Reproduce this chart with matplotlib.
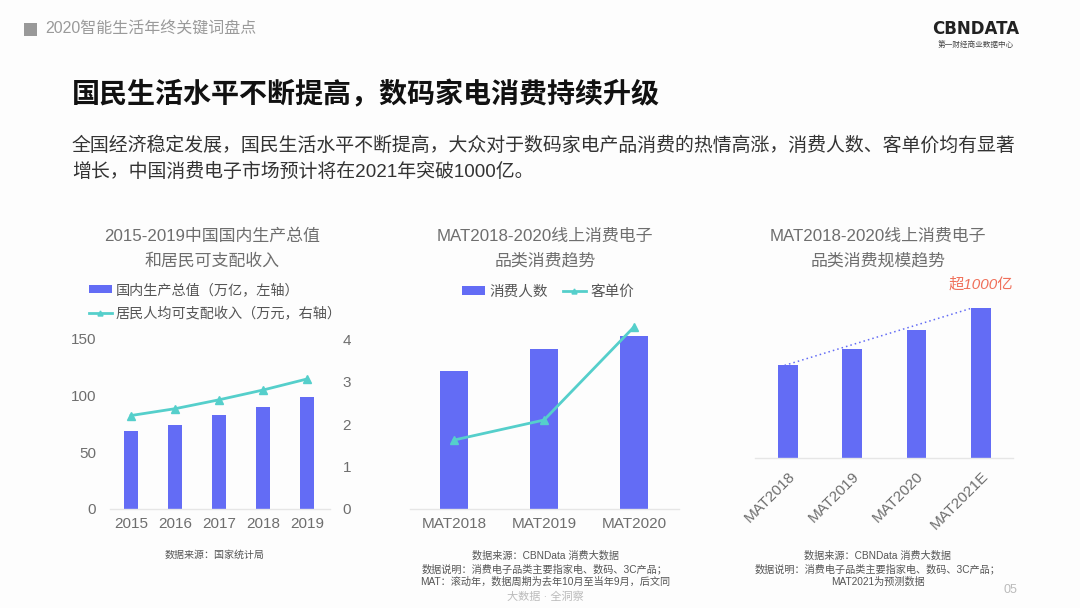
import matplotlib
matplotlib.use("Agg")
import matplotlib.pyplot as plt
from matplotlib.patches import Rectangle

plt.rcParams['font.family'] = ['Liberation Sans', 'Noto Sans CJK SC', 'DejaVu Sans']

# ---------------- data ----------------
years = ['2015', '2016', '2017', '2018', '2019']
gdp = [68.9, 74.4, 82.7, 90.0, 99.1]            # 万亿
income = [2.20, 2.36, 2.57, 2.80, 3.06]         # 万元

mat3 = ['MAT2018', 'MAT2019', 'MAT2020']
consumers_idx = [100, 116, 126]                 # 消费人数 (relative)
price_idx = [100, 129, 264]                     # 客单价 (relative)

mat4 = ['MAT2018', 'MAT2019', 'MAT2020', 'MAT2021E']
scale = [650, 767, 898, 1050]                   # 亿

BAR = '#636cf5'
LINE = '#55cfcb'
GRAY = '#6e6e6e'
W, H = 1080, 608

fig = plt.figure(figsize=(W / 100, H / 100), dpi=100, facecolor='#fdfdfd')

def fx(px):
    return px / W

def fy(py):
    return 1 - py / H

def style_axis(ax):
    for s in ['top', 'right', 'left']:
        ax.spines[s].set_visible(False)
    ax.spines['bottom'].set_color('#e6e6e6')
    ax.spines['bottom'].set_linewidth(1.0)
    ax.set_facecolor('none')
    ax.tick_params(axis='both', length=0, colors=GRAY, labelsize=11)

# ---------------- header ----------------
fig.patches.append(Rectangle((fx(24), fy(36)), fx(13), 13 / H, transform=fig.transFigure,
                             facecolor='#999999', edgecolor='none'))
fig.text(fx(45), fy(29), '2020智能生活年终关键词盘点', fontsize=11.5, color='#9a9a9a', va='center')
fig.text(fx(976), fy(29), 'CBNDATA', fontsize=12, fontweight='bold', color='#222222',
         ha='center', va='center', family='DejaVu Sans')
fig.text(fx(976), fy(45), '第一财经商业数据中心', fontsize=5.5, color='#444444', ha='center', va='center')

fig.text(fx(72), fy(95), '国民生活水平不断提高，数码家电消费持续升级', fontsize=20.2,
         fontweight='bold', color='#111111', va='center')
fig.text(fx(72), fy(146), '全国经济稳定发展，国民生活水平不断提高，大众对于数码家电产品消费的热情高涨，消费人数、客单价均有显著',
         fontsize=13.6, color='#333333', va='center')
fig.text(fx(72), fy(172), '增长，中国消费电子市场预计将在2021年突破1000亿。',
         fontsize=13.6, color='#333333', va='center')

# ---------------- chart 1 ----------------
ax1 = fig.add_axes([fx(110), fy(509), fx(220), 170 / H])
style_axis(ax1)
x1 = range(len(years))
b1 = ax1.bar(x1, gdp, width=0.32, color=BAR, label='国内生产总值（万亿，左轴）')
ax1.set_xlim(-0.48, 4.52)
ax1.set_ylim(0, 150)
ax1.set_yticks([0, 50, 100, 150])
ax1.set_xticks(list(x1))
ax1.set_xticklabels(years)
ax1.tick_params(axis='y', pad=10)
ax1.tick_params(axis='x', pad=6)
ax1b = ax1.twinx()
for s in ax1b.spines.values():
    s.set_visible(False)
l1, = ax1b.plot(list(x1), income, color=LINE, lw=2, marker='^', ms=6,
                label='居民人均可支配收入（万元，右轴）')
ax1b.set_ylim(0, 4)
ax1b.set_yticks([0, 1, 2, 3, 4])
ax1b.tick_params(axis='y', length=0, colors=GRAY, labelsize=11, pad=9)

fig.text(fx(212), fy(236), '2015-2019中国国内生产总值', fontsize=12.2, color=GRAY, ha='center', va='center')
fig.text(fx(212), fy(261), '和居民可支配收入', fontsize=12.2, color=GRAY, ha='center', va='center')
fig.legend(handles=[b1, l1], loc='upper left', bbox_to_anchor=(fx(89), fy(283)),
           frameon=False, fontsize=10.2, labelcolor='#555555', handlelength=1.6,
           handleheight=0.55, markerscale=0.6,
           handletextpad=0.3, labelspacing=0.7, borderaxespad=0, borderpad=0)
fig.text(fx(215), fy(555), '数据来源：国家统计局', fontsize=7.2, color='#555555', ha='center', va='center')

# ---------------- chart 2 ----------------
ax2 = fig.add_axes([fx(410), fy(509), fx(269), 189 / H])
style_axis(ax2)
x2 = range(len(mat3))
b2 = ax2.bar(x2, consumers_idx, width=0.31, color=BAR, label='消费人数')
ax2.set_xlim(-0.49, 2.5)
ax2.set_ylim(0, 137.4)
ax2.set_yticks([])
ax2.set_xticks(list(x2))
ax2.set_xticklabels(mat3)
ax2.tick_params(axis='x', pad=6)
ax2b = ax2.twinx()
for s in ax2b.spines.values():
    s.set_visible(False)
ax2b.set_yticks([])
l2, = ax2b.plot(list(x2), price_idx, color=LINE, lw=2, marker='^', ms=6, label='客单价')
ax2b.set_ylim(0, 274)

fig.text(fx(545), fy(236), 'MAT2018-2020线上消费电子', fontsize=12.2, color=GRAY, ha='center', va='center')
fig.text(fx(545), fy(261), '品类消费趋势', fontsize=12.2, color=GRAY, ha='center', va='center')
fig.legend(handles=[b2, l2], loc='center', bbox_to_anchor=(fx(548), fy(292)), ncol=2,
           frameon=False, fontsize=10.5, labelcolor='#555555', handlelength=1.6,
           handleheight=0.55, markerscale=0.6,
           handletextpad=0.3, columnspacing=1.0, borderaxespad=0, borderpad=0)
for i, t in enumerate(['数据来源：CBNData 消费大数据',
                       '数据说明：消费电子品类主要指家电、数码、3C产品；',
                       'MAT：滚动年，数据周期为去年10月至当年9月，后文同']):
    fig.text(fx(545), fy(556 + 13 * i), t, fontsize=7.3, color='#555555', ha='center', va='center')

# ---------------- chart 3 ----------------
ax3 = fig.add_axes([fx(755), fy(458), fx(258), 158 / H])
style_axis(ax3)
x3 = list(range(len(mat4)))
bw = 0.31
ax3.bar(x3, scale, width=bw, color=BAR)
ax3.set_xlim(-0.51, 3.5)
ax3.set_ylim(0, 1109)
ax3.set_yticks([])
ax3.set_xticks(x3)
ax3.set_xticklabels(mat4, rotation=45, ha='right', rotation_mode='anchor')
ax3.tick_params(axis='x', pad=8)
ax3.plot([x3[0] - 0.05, x3[-1] - bw / 2], [scale[0], scale[-1]], color=BAR, lw=1.1,
         ls=(0, (1, 2)))
ax3.annotate('超1000亿', xy=(x3[-1], scale[-1]), xytext=(0, 17), textcoords='offset points',
             ha='center', va='center', fontsize=11, color='#f0705a', style='italic')

fig.text(fx(878), fy(236), 'MAT2018-2020线上消费电子', fontsize=12.2, color=GRAY, ha='center', va='center')
fig.text(fx(878), fy(261), '品类消费规模趋势', fontsize=12.2, color=GRAY, ha='center', va='center')
for i, t in enumerate(['数据来源：CBNData 消费大数据',
                       '数据说明：消费电子品类主要指家电、数码、3C产品；',
                       'MAT2021为预测数据']):
    fig.text(fx(878), fy(556 + 13 * i), t, fontsize=7.3, color='#555555', ha='center', va='center')

# ---------------- footer ----------------
fig.text(fx(545), fy(597), '大数据 · 全洞察', fontsize=8, color='#bbbbbb', ha='center', va='center')
fig.text(fx(1010), fy(590), '05', fontsize=9, color='#bbbbbb', ha='center', va='center')

fig.savefig('out.png', dpi=100, facecolor=fig.get_facecolor())
